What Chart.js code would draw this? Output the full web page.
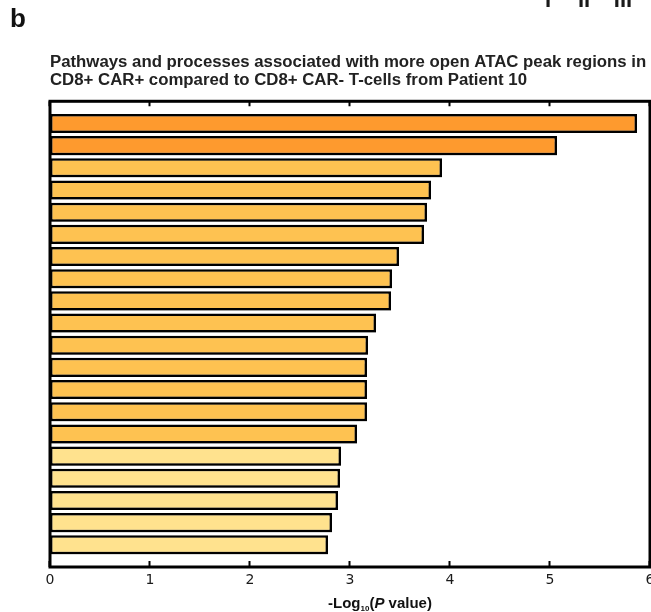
<!DOCTYPE html>
<html>
<head>
<meta charset="utf-8">
<script src="https://cdn.jsdelivr.net/npm/chart.js@4/dist/chart.umd.min.js"></script>
<style>
  html, body { margin: 0; padding: 0; background: #ffffff; }
  #wrap { width: 651px; height: 612px; position: relative; }
</style>
</head>
<body>
<div id="wrap"><canvas id="chart" width="651" height="612"></canvas></div>
<script>
// Ranked pathways / processes (top = most significant)
const ranks = ['1', '2', '3', '4', '5', '6', '7', '8', '9', '10',
               '11', '12', '13', '14', '15', '16', '17', '18', '19', '20'];

// -log10(P value) for each ranked term
const negLogP = [5.87, 5.07, 3.92, 3.81, 3.77, 3.74, 3.49, 3.42, 3.41, 3.26,
                 3.18, 3.17, 3.17, 3.17, 3.07, 2.91, 2.90, 2.88, 2.82, 2.78];

// Significance tier of each term, used for the bar fill
const tiers = ['high', 'high', 'mid', 'mid', 'mid', 'mid', 'mid', 'mid', 'mid', 'mid',
               'mid', 'mid', 'mid', 'mid', 'mid', 'low', 'low', 'low', 'low', 'low'];

// x-axis ticks
const xTicks = [0, 1, 2, 3, 4, 5, 6];

const titleLines = [
  'Pathways and processes associated with more open ATAC peak regions in',
  'CD8+ CAR+ compared to CD8+ CAR- T-cells from Patient 10'
];

const tierColors = { high: '#FE9A2E', mid: '#FEC251', low: '#FFE28E' };

// soft drop shadow under the bars
const barShadow = {
  id: 'barShadow',
  beforeDatasetsDraw(chart) {
    const ctx = chart.ctx;
    ctx.save();
    ctx.shadowColor = 'rgba(0,0,0,0.35)';
    ctx.shadowBlur = 1;
    ctx.shadowOffsetX = 1;
    ctx.shadowOffsetY = 1.5;
  },
  afterDatasetsDraw(chart) {
    chart.ctx.restore();
  }
};

// plot frame with inward tick marks on top and bottom
const frame = {
  id: 'frame',
  afterDatasetsDraw(chart) {
    const { ctx, chartArea: a } = chart;
    const xs = chart.scales.x;
    ctx.save();
    ctx.strokeStyle = '#000';
    ctx.lineWidth = 2;
    xTicks.forEach(v => {
      const px = Math.round(xs.getPixelForValue(v)) - 0.5;
      ctx.beginPath();
      ctx.moveTo(px, a.bottom);
      ctx.lineTo(px, a.bottom - 6);
      ctx.moveTo(px, a.top);
      ctx.lineTo(px, a.top + 5);
      ctx.stroke();
    });
    ctx.lineWidth = 3;
    ctx.strokeRect(a.left, a.top, a.right - a.left, a.bottom - a.top);
    ctx.restore();
  }
};

// panel letter, header marks and the x-axis title with subscript / italic
const annotations = {
  id: 'annotations',
  afterDraw(chart) {
    const { ctx } = chart;
    ctx.save();
    ctx.fillStyle = '#111';
    ctx.textBaseline = 'alphabetic';
    ctx.textAlign = 'left';
    ctx.font = 'bold 26px "Liberation Sans", Arial, sans-serif';
    ctx.fillText('b', 10, 27);

    ctx.fillStyle = '#1a1a1a';
    ctx.font = 'bold 22px "Liberation Sans", Arial, sans-serif';
    ctx.textAlign = 'center';
    ctx.fillText('I', 548, 7);
    ctx.fillText('II', 584, 7);
    ctx.fillText('III', 623, 7);

    // x-axis title: -Log10(P value)
    const fam = '"Liberation Sans", Arial, sans-serif';
    const parts = [
      { t: '-Log', f: 'bold 15px ' + fam, dy: 0 },
      { t: '10', f: 'bold 8px ' + fam, dy: 3 },
      { t: '(', f: 'bold 15px ' + fam, dy: 0 },
      { t: 'P', f: 'italic bold 15px ' + fam, dy: 0 },
      { t: ' value)', f: 'bold 15px ' + fam, dy: 0 }
    ];
    let total = 0;
    parts.forEach(p => { ctx.font = p.f; p.w = ctx.measureText(p.t).width; total += p.w; });
    let x = 380 - total / 2;
    const base = 608;
    ctx.textAlign = 'left';
    ctx.fillStyle = '#111';
    parts.forEach(p => {
      ctx.font = p.f;
      ctx.fillText(p.t, x, base + p.dy);
      x += p.w;
    });
    ctx.restore();
  }
};

new Chart(document.getElementById('chart'), {
  type: 'bar',
  data: {
    labels: ranks,
    datasets: [{
      data: negLogP.map((v, i) => ({ x: v, y: i })),
      backgroundColor: tiers.map(t => tierColors[t]),
      borderColor: '#000000',
      borderWidth: 2.5,
      borderSkipped: false,
      barPercentage: 0.86,
      categoryPercentage: 1.0
    }]
  },
  options: {
    indexAxis: 'y',
    responsive: false,
    animation: false,
    devicePixelRatio: 1,
    layout: {
      autoPadding: false,
      padding: { left: 50, right: 1, top: 0, bottom: 0 }
    },
    plugins: {
      legend: { display: false },
      tooltip: { enabled: false },
      title: {
        display: true,
        text: titleLines,
        align: 'start',
        color: '#222222',
        font: { family: '"Liberation Sans", Arial, sans-serif', size: 16.8, weight: 'bold', lineHeight: 1.08 },
        padding: { top: 53, bottom: 12 }
      }
    },
    scales: {
      x: {
        type: 'linear',
        min: 0,
        max: 6,
        afterBuildTicks(scale) { scale.ticks = xTicks.map(v => ({ value: v })); },
        afterFit(scale) {
          scale.height = 45;
          scale.paddingLeft = 0;
          scale.paddingRight = 0;
        },
        grid: { display: false, drawTicks: false },
        border: { display: false },
        ticks: {
          padding: 5,
          color: '#1a1a1a',
          font: { family: '"DejaVu Sans", sans-serif', size: 14 },
          maxRotation: 0
        }
      },
      y: {
        type: 'linear',
        reverse: true,
        offset: false,
        min: -1,
        max: 20,
        ticks: { stepSize: 1 },
        display: false
      }
    }
  },
  plugins: [barShadow, frame, annotations]
});
</script>
</body>
</html>
